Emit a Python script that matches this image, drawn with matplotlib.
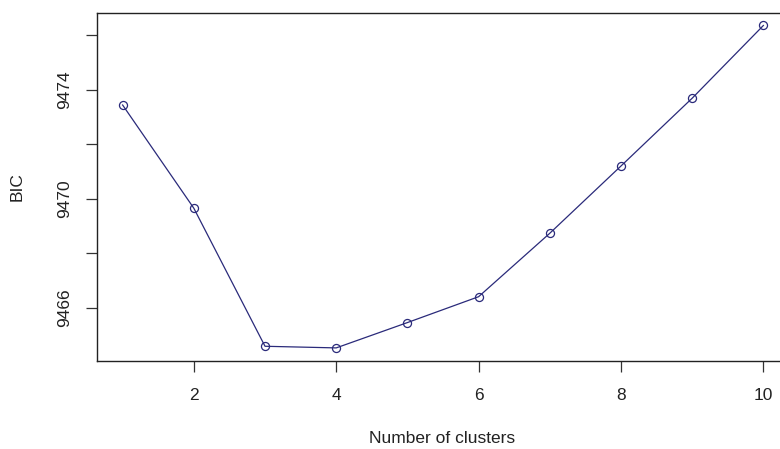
import matplotlib
matplotlib.use("Agg")
import matplotlib.pyplot as plt

clusters = [1, 2, 3, 4, 5, 6, 7, 8, 9, 10]
bic = [9473.44, 9469.65, 9464.58, 9464.52, 9465.45, 9466.40, 9468.73, 9471.20, 9473.69, 9476.36]
xticks = [2, 4, 6, 8, 10]
yticks = [9466, 9468, 9470, 9472, 9474, 9476]
ylabels = ["9466", "", "9470", "", "9474", ""]

plt.rcParams['font.family'] = ['Liberation Sans', 'DejaVu Sans']
fig = plt.figure(figsize=(7.8, 4.49), dpi=100)
ax = fig.add_axes([97/780, (449-360.7)/449, (789-97)/780, (360.7-12.7)/449])

col = '#2a2a7a'
ax.plot(clusters, bic, color=col, lw=0.9, marker='o', ms=5.8, mfc='none', mec=col, mew=0.9)

ax.set_xlim(0.64, 10.36)
ax.set_ylim(9464.05, 9476.83)
ax.set_xticks(xticks)
ax.set_yticks(yticks)
ax.set_yticklabels(ylabels, rotation=90, va='center')
ax.tick_params(axis='both', length=8, width=0.9, color='#333333', labelsize=12.5, labelcolor='#222222')
ax.tick_params(axis='x', pad=12)
ax.tick_params(axis='y', pad=10)
for s in ax.spines.values():
    s.set_linewidth(1.0)
    s.set_color('#222222')

ax.set_xlabel('Number of clusters', fontsize=12.5, color='#222222')
ax.set_ylabel('BIC', fontsize=12.5, color='#222222')
ax.xaxis.set_label_coords((442-97)/(789-97), -(431-360.7)/348)
ax.yaxis.set_label_coords(-(97-25)/692, (360.7-187)/348)

fig.savefig('out.png', dpi=100)
